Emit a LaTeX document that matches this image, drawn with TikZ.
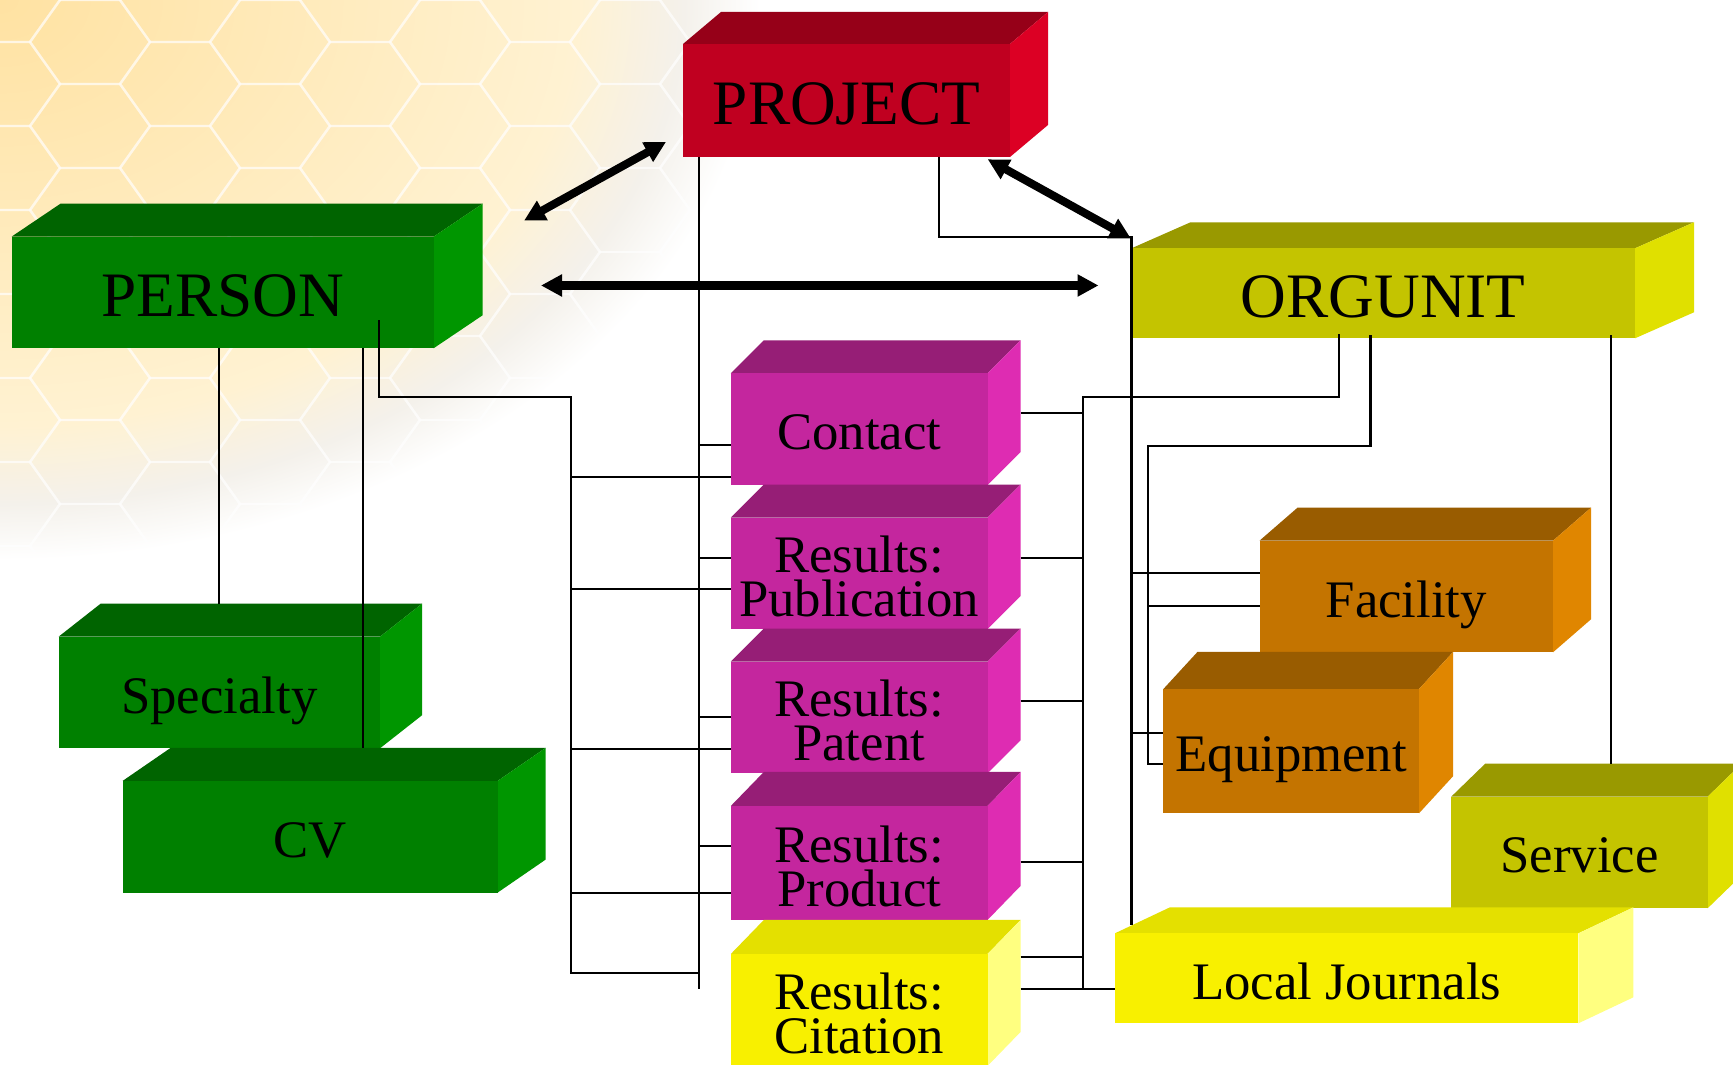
\documentclass[tikz,border=0pt]{standalone}
\usepackage{fontspec}
\setmainfont{Liberation Serif}
\usetikzlibrary{arrows.meta,calc,fit}

\definecolor{projF}{HTML}{C00020}
\definecolor{projT}{HTML}{960018}
\definecolor{projS}{HTML}{DC0024}
\definecolor{perF}{HTML}{008000}
\definecolor{perT}{HTML}{006400}
\definecolor{perS}{HTML}{009600}
\definecolor{orgF}{HTML}{C4C400}
\definecolor{orgT}{HTML}{999900}
\definecolor{orgS}{HTML}{E0E000}
\definecolor{facF}{HTML}{C47400}
\definecolor{facT}{HTML}{995C00}
\definecolor{facS}{HTML}{E08600}
\definecolor{resF}{HTML}{C4269E}
\definecolor{resT}{HTML}{961E76}
\definecolor{resS}{HTML}{DE2CB2}
\definecolor{yelF}{HTML}{F8F000}
\definecolor{yelT}{HTML}{E4E000}
\definecolor{yelS}{HTML}{FFFF80}
\definecolor{honeyA}{HTML}{FFE2A2}
\definecolor{honeyB}{HTML}{FFF2D2}
\definecolor{honeyC}{HTML}{F4F1EB}

\pgfdeclareradialshading{honeyfade}{\pgfpoint{0bp}{0bp}}{color(0bp)=(honeyA); color(19bp)=(honeyB); color(22.5bp)=(honeyC); color(25bp)=(white); color(50bp)=(white)}

\newcommand{\bigfont}{\fontsize{18}{18}\selectfont}
% name, front x1/y1, front x2/y2, depth dx/dy, colour, text
\newcommand{\isobox}[9]{%
  \fill[#8T] (#2,#3) -- ++(#6,-#7) -- (#4+#6,#3-#7) -- (#4,#3) -- cycle;
  \fill[#8S] (#4,#3) -- (#4+#6,#3-#7) -- (#4+#6,#5-#7) -- (#4,#5) -- cycle;
  \node[face, fill=#8F, fit={(#2,#3) (#4,#5)}] (#1) {};
  \node[boxtext] (#1txt) at ($(#1.center)+(0,3)$) {#9};
}

\begin{document}
\begin{tikzpicture}[x=0.01cm, y=-0.01cm,
    face/.style={inner sep=0pt, outer sep=0pt},
    boxtext/.style={inner sep=0pt, text depth=0pt, align=center, font=\fontsize{15}{12.5}\selectfont},
    link/.style={line width=0.6pt},
    arr/.style={line width=2.3pt, {Triangle[length=2.1mm,width=2.1mm]}-{Triangle[length=2.1mm,width=2.1mm]}},
    hexline/.style={draw=white, line width=0.7pt, draw opacity=0.45}]
  \useasboundingbox (0,0) rectangle (1733,1065);
  \clip (0,0) rectangle (1733,1065);
  \fill[white] (0,0) rectangle (1733,1065);

  \shade[shading=honeyfade] (-760,-560) rectangle (760,560);
  \foreach \i in {0,...,9}
    \foreach \j in {-1,...,7}
      \draw[hexline] ({\i*90},{\j*84+mod(\i,2)*42}) +(60,0) -- +(30,42) -- +(-30,42) -- +(-60,0) -- +(-30,-42) -- +(30,-42) -- cycle;

  \isobox{project}{683}{44}{1010}{157}{38}{32}{proj}{\bigfont PROJECT}
  \isobox{person}{11.5}{236.7}{433.6}{348.3}{49}{33}{per}{\bigfont PERSON}
  \isobox{orgunit}{1131.5}{248.3}{1635}{338.3}{59}{26}{org}{\bigfont ORGUNIT}
  \isobox{specialty}{58.6}{636.7}{380}{748.3}{42}{33}{per}{Specialty}
  \isobox{cv}{122.5}{781}{497.5}{892.7}{48}{33}{per}{CV}
  \isobox{contact}{730.8}{373.3}{987.5}{485}{33}{33}{res}{Contact}
  \isobox{publication}{730.8}{517.7}{987.5}{629}{33}{33}{res}{Results:\\Publication}
  \isobox{patent}{730.8}{661.7}{987.5}{773.3}{33}{33}{res}{Results:\\Patent}
  \isobox{product}{730.8}{806}{987.5}{920}{33}{34}{res}{Results:\\Product}
  \isobox{citation}{730.8}{954}{987.5}{1066}{33}{34}{yel}{Results:\\Citation}
  \isobox{facility}{1259.5}{540.7}{1553}{652.3}{38}{33}{fac}{Facility}
  \isobox{equipment}{1163.4}{689}{1419}{813.3}{34}{37}{fac}{Equipment}
  \isobox{service}{1451.2}{796.7}{1707.6}{908.3}{34}{33}{org}{Service}
  \isobox{journals}{1115}{933.3}{1578.4}{1023.3}{55}{26}{yel}{Local Journals}

  \coordinate (ptrunk) at (698.7,989.3);
  \coordinate (otrunk) at (1082.6,989.3);

  % project
  \draw[link] (project.south -| ptrunk) -- (ptrunk);
  \foreach \b/\y in {contact/445,publication/557.7,patent/717,product/845.7}
    \draw[link] (ptrunk |- 0,\y) -- (\b.west |- 0,\y);
  \draw[link] (project.south -| 938.7,0) |- (orgunit.west |- 0,237.3) -- (orgunit.west |- 0,925);
  \draw[link] (orgunit.west |- 0,573.3) -- (facility.west |- 0,573.3);
  \draw[link] (orgunit.west |- 0,733.3) -- (equipment.west |- 0,733.3);

  % person
  \draw[link] (specialty.north |- person.south) -- ($(specialty.north)+(0,-33)$);
  \draw[link] (person.south -| 362.8,0) -- ($(cv.north -| 362.8,0)+(0,-33)$);
  \draw[link] ($(person.south -| 378.9,0)+(0,-28)$) |- (571,397.3) |- (ptrunk |- 0,973.3);
  \foreach \b/\y in {contact/476.7,publication/589,patent/749.3,product/893.3}
    \draw[link] (571,\y) -- (\b.west |- 0,\y);

  % orgunit
  \draw[link] ($(orgunit.south -| 1339,0)+(0,-4)$) |- (otrunk |- 0,397.3) -- (otrunk);
  \foreach \b/\y in {contact/413.3,publication/557.7,patent/701,product/861.7,citation/957.3}
    \draw[link] ($(\b.east |- 0,\y)+(33,0)$) -- (otrunk |- 0,\y);
  \draw[link] ($(citation.east |- otrunk)+(33,0)$) -- (journals.west |- otrunk);
  \draw[link] ($(orgunit.south -| 1370.5,0)+(0,-3)$) |- (1147.6,445.7) |- (equipment.west |- 0,764.3);
  \draw[link] (1147.6,605.7) -- (facility.west |- 0,605.7);
  \draw[link] ($(orgunit.south -| 1610.7,0)+(0,-3)$) -- ($(service.north -| 1610.7,0)+(0,-33)$);

  % arrows
  \coordinate (a1) at (524,220.7);
  \coordinate (a2) at (666,142);
  \coordinate (a3) at (987.7,159.3);
  \coordinate (a4) at (1131,238.7);
  \coordinate (a5) at (541,285.5);
  \coordinate (a6) at (1098.5,285.5);
  \draw[arr] (a1) -- (a2);
  \draw[arr] (a3) -- (a4);
  \draw[arr] (a5) -- (a6);
\end{tikzpicture}
\end{document}
